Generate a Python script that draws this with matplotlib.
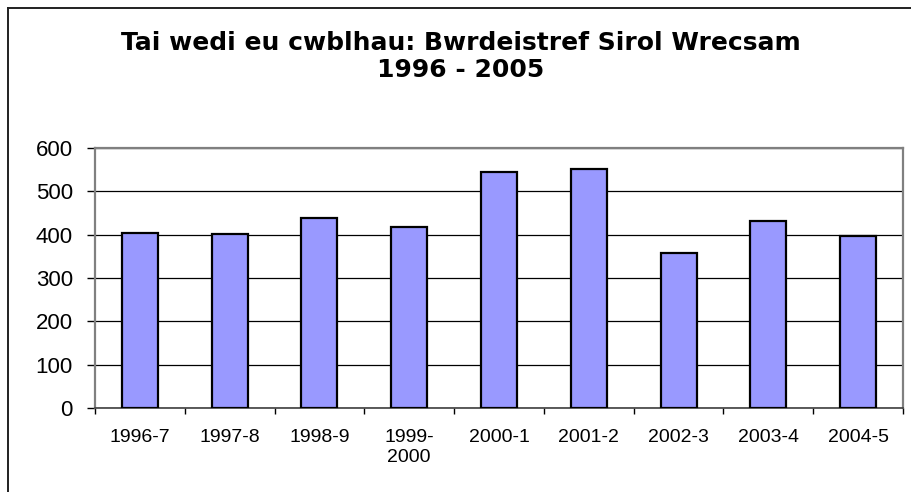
import matplotlib
matplotlib.use('Agg')
import matplotlib.pyplot as plt
from matplotlib.lines import Line2D
import numpy as np

# houses completed per year
years = ['1996-7', '1997-8', '1998-9', '1999-\n2000', '2000-1',
         '2001-2', '2002-3', '2003-4', '2004-5']
completed = [404, 402, 438, 418, 544, 552, 358, 432, 396]
y_ticks = [0, 100, 200, 300, 400, 500, 600]

plt.rcParams['font.family'] = ['Liberation Sans', 'DejaVu Sans']

fig = plt.figure(figsize=(9.11, 4.92), dpi=100)
W, H = 911.0, 492.0
ax = fig.add_axes([95 / W, 1 - 408 / H, (903 - 95) / W, (408 - 148) / H])

x = np.arange(len(years))
ax.bar(x, completed, width=0.4, color='#9999FF', edgecolor='black',
       linewidth=1.6, zorder=3)

ax.set_xlim(-0.5, len(years) - 0.5)
ax.set_ylim(0, 600)
ax.set_yticks(y_ticks)
ax.set_yticklabels([str(v) for v in y_ticks], fontsize=16)
ax.yaxis.grid(True, color='black', linewidth=0.9, zorder=0)
ax.tick_params(axis='y', direction='out', length=6, width=1, pad=10)

ax.set_xticks(x)
ax.set_xticklabels(years, fontsize=14, linespacing=1.25)
ax.tick_params(axis='x', which='major', length=0, pad=15)
ax.set_xticks(np.arange(len(years) + 1) - 0.5, minor=True)
ax.tick_params(axis='x', which='minor', direction='out', length=4, width=1)

for side in ['top', 'right', 'left']:
    ax.spines[side].set_color('#808080')
    ax.spines[side].set_linewidth(1.6)
ax.spines['bottom'].set_color('#404040')
ax.spines['bottom'].set_linewidth(1.2)

fig.text(461 / W, 1 - 50 / H, 'Tai wedi eu cwblhau: Bwrdeistref Sirol Wrecsam',
         ha='center', va='baseline', fontsize=18, fontweight='bold',
         family='DejaVu Sans')
fig.text(461 / W, 1 - 77 / H, '1996 - 2005', ha='center', va='baseline',
         fontsize=18, fontweight='bold', family='DejaVu Sans')

# chart area border (only top and left edges fall inside the image)
fig.add_artist(Line2D([8 / W, 1], [1 - 7.5 / H, 1 - 7.5 / H],
                      color='#202020', linewidth=1.4, transform=fig.transFigure))
fig.add_artist(Line2D([8 / W, 8 / W], [0, 1 - 7.5 / H],
                      color='#202020', linewidth=1.4, transform=fig.transFigure))

fig.savefig('out.png', dpi=100)
